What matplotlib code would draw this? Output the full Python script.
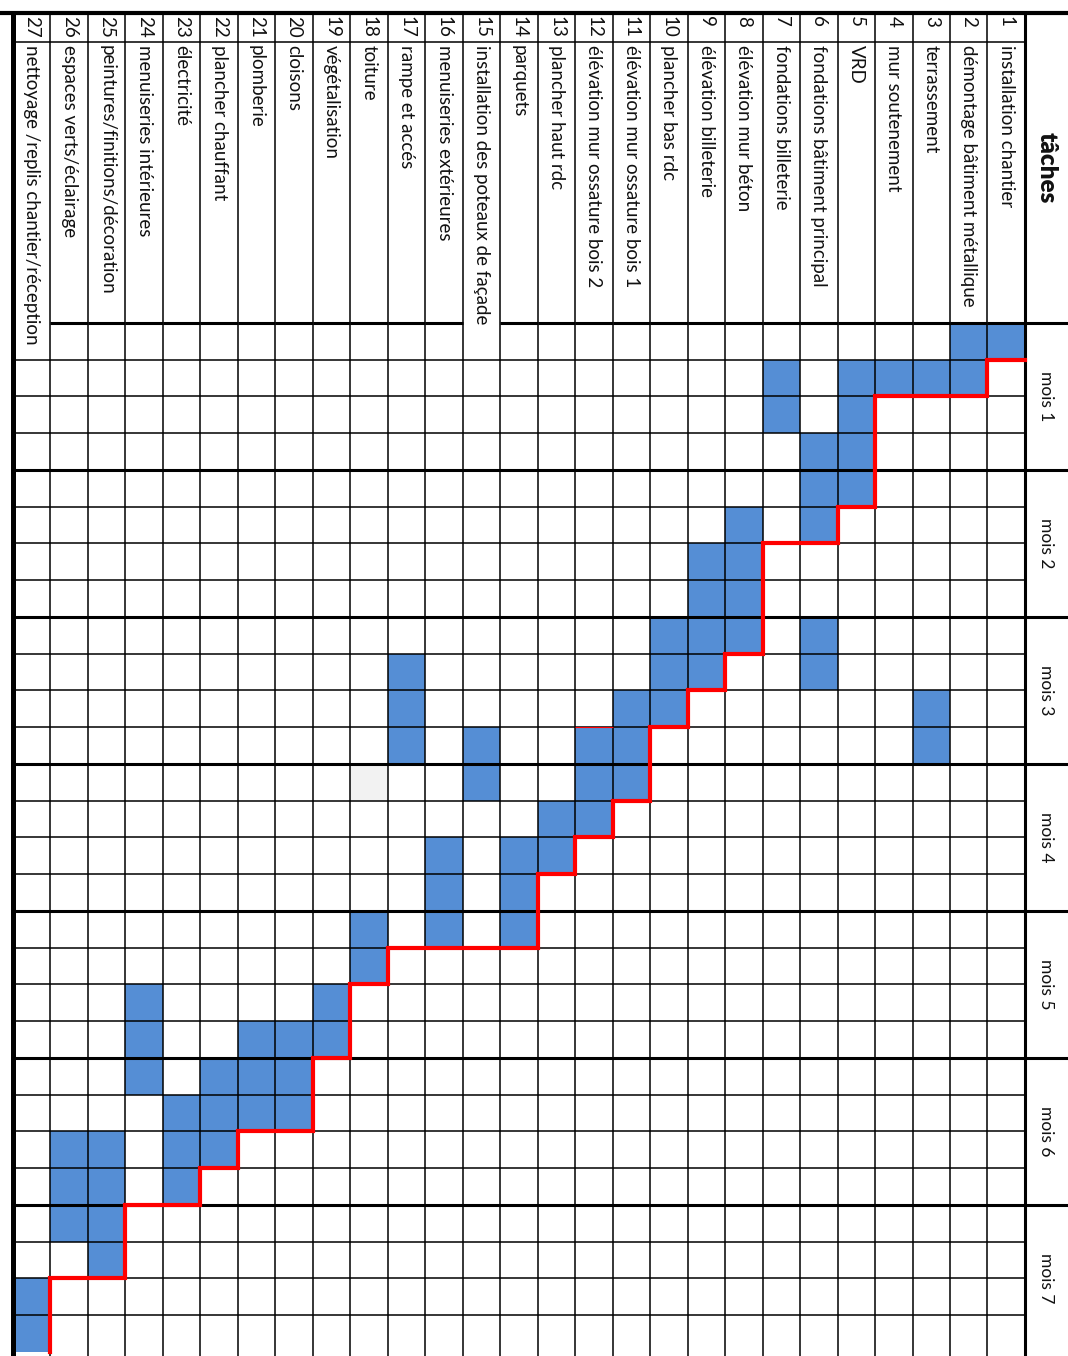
"""Planning travaux: rotated Gantt chart (tasks as columns, weeks as rows)."""

import matplotlib.pyplot as plt

# --- data -----------------------------------------------------------------
task_names = [
    "installation chantier",
    "démontage bâtiment métallique",
    "terrassement",
    "mur soutenement",
    "VRD",
    "fondations bâtiment principal",
    "fondations billeterie",
    "élévation mur béton",
    "élévation billeterie",
    "plancher bas rdc",
    "élévation mur ossature bois 1",
    "élévation mur ossature bois 2",
    "plancher haut rdc",
    "parquets",
    "installation des poteaux de façade",
    "menuiseries extérieures",
    "rampe et accés",
    "toiture",
    "végétalisation",
    "cloisons",
    "plomberie",
    "plancher chauffant",
    "électricité",
    "menuiseries intérieures",
    "peintures/finitions/décoration",
    "espaces verts/éclairage",
    "nettoyage /replis chantier/réception",
]

# weeks (0-based) during which each task is active
task_weeks = [
    [0],
    [0, 1],
    [1, 10, 11],
    [1],
    [1, 2, 3, 4],
    [3, 4, 5, 8, 9],
    [1, 2],
    [5, 6, 7, 8],
    [6, 7, 8, 9],
    [8, 9, 10],
    [10, 11, 12],
    [11, 12, 13],
    [13, 14],
    [14, 15, 16],
    [11, 12],
    [14, 15, 16],
    [9, 10, 11],
    [16, 17],
    [18, 19],
    [19, 20, 21],
    [19, 20, 21],
    [20, 21, 22],
    [21, 22, 23],
    [18, 19, 20],
    [22, 23, 24, 25],
    [22, 23, 24],
    [26, 27],
]

month_labels = ["mois 1", "mois 2", "mois 3", "mois 4", "mois 5", "mois 6", "mois 7"]
weeks_per_month = 4

# critical path: staircase, task boundary index -> week line
crit_bounds = [0, 1, 4, 5, 7, 8, 9, 10, 11, 12, 13, 17, 18, 19, 21, 22, 24, 26]
crit_weeks = [1, 2, 5, 6, 9, 10, 11, 13, 14, 15, 17, 18, 20, 22, 23, 24, 26, 28]

grey_cells = [(18, 12)]  # (task, week)
red_edges = [(12, 11)]  # thin red top edge on a cell

# --- layout (pixels) --------------------------------------------------------
W_PX, H_PX = 1068, 1356
COL_PX, ROW_PX = 37.48, 36.74
LEFT_PX, TOP_PX = 13, 13
GRID_TOP_PX = 323
NUM_DIV_PX = 42

BLUE = "#558ed5"
RED = "#ff0000"
FONT = ["Lato", "DejaVu Sans"]
TEXT_COLOR = "#111111"

n_tasks = len(task_names)
n_weeks = len(month_labels) * weeks_per_month

x_left = -LEFT_PX / COL_PX
x_right = n_tasks + (W_PX - LEFT_PX - n_tasks * COL_PX) / COL_PX
y_top = -GRID_TOP_PX / ROW_PX
y_bottom = (H_PX - GRID_TOP_PX) / ROW_PX
y_header = -(GRID_TOP_PX - TOP_PX) / ROW_PX
y_numdiv = -(GRID_TOP_PX - NUM_DIV_PX) / ROW_PX


def col_x(task):
    """Left edge of the column of a 1-based task (task 1 on the right)."""
    return n_tasks - task


fig = plt.figure(figsize=(W_PX / 100, H_PX / 100), dpi=100)
ax = fig.add_axes([0, 0, 1, 1])
ax.set_xlim(x_left, x_right)
ax.set_ylim(y_bottom, y_top)
ax.axis("off")

# blue activity cells
for t, weeks in enumerate(task_weeks, start=1):
    ax.bar([col_x(t)] * len(weeks), [1] * len(weeks), width=1, bottom=weeks,
           align="edge", color=BLUE, linewidth=0, zorder=1)

for t, w in grey_cells:
    ax.bar(col_x(t), 1, width=1, bottom=w, align="edge", color="#f2f2f2",
           linewidth=0, zorder=1)

# grid
thin, thick = 1.1, 2.2
ax.vlines(range(1, n_tasks), y_header, y_bottom, color="black", lw=thin, zorder=2)
ax.vlines(0, y_header, y_bottom, color="black", lw=3.6, zorder=3)
ax.vlines(n_tasks, y_header, y_bottom, color="black", lw=thick, zorder=3)
ax.hlines([w for w in range(1, n_weeks) if w % weeks_per_month], 0, n_tasks,
          color="black", lw=thin, zorder=2)
ax.hlines(range(weeks_per_month, n_weeks, weeks_per_month), 0, x_right,
          color="black", lw=thick, zorder=3)
ax.hlines(y_numdiv, 0, n_tasks, color="black", lw=thin, zorder=2)
ax.hlines(y_header, x_left, x_right, color="black", lw=3.0, zorder=3)

# header bottom; overflowing labels (15, 27) hide it in their column
for t in range(1, n_tasks + 1):
    if t in (15, 27):
        continue
    ax.hlines(0, col_x(t), col_x(t) + 1, color="black", lw=thick, zorder=3)
ax.hlines(0, n_tasks, x_right, color="black", lw=thick, zorder=3)

for t, w in red_edges:
    ax.hlines(w, col_x(t), col_x(t) + 1, color=RED, lw=0.8, zorder=4)

# critical path
px, py = [n_tasks - crit_bounds[0]], [crit_weeks[0]]
for i in range(1, len(crit_bounds)):
    px += [n_tasks - crit_bounds[i], n_tasks - crit_bounds[i]]
    py += [crit_weeks[i - 1], crit_weeks[i]]
ax.plot(px, py, color=RED, lw=3.0, solid_joinstyle="miter", zorder=5)

# labels
for t, name in enumerate(task_names, start=1):
    xc = col_x(t) + 0.5
    ax.text(xc, y_header + 3 / ROW_PX, str(t), rotation=270, rotation_mode="anchor",
            ha="left", va="center", fontsize=13.5, family=FONT, color=TEXT_COLOR,
            zorder=6)
    ax.text(xc, y_numdiv + 3 / ROW_PX, name, rotation=270, rotation_mode="anchor",
            ha="left", va="center", fontsize=13.5, family=FONT, color=TEXT_COLOR,
            zorder=6)

x_month = (n_tasks + x_right) / 2
ax.text(x_month, (y_header + 0) / 2, "tâches", rotation=270, ha="center",
        va="center", fontsize=17.5, fontweight="heavy", family=FONT, color=TEXT_COLOR)
for m, label in enumerate(month_labels):
    ax.text(x_month, m * weeks_per_month + weeks_per_month / 2, label,
            rotation=270, ha="center", va="center", fontsize=12.5, family=FONT,
            color=TEXT_COLOR)

fig.savefig("out.png", dpi=100)
